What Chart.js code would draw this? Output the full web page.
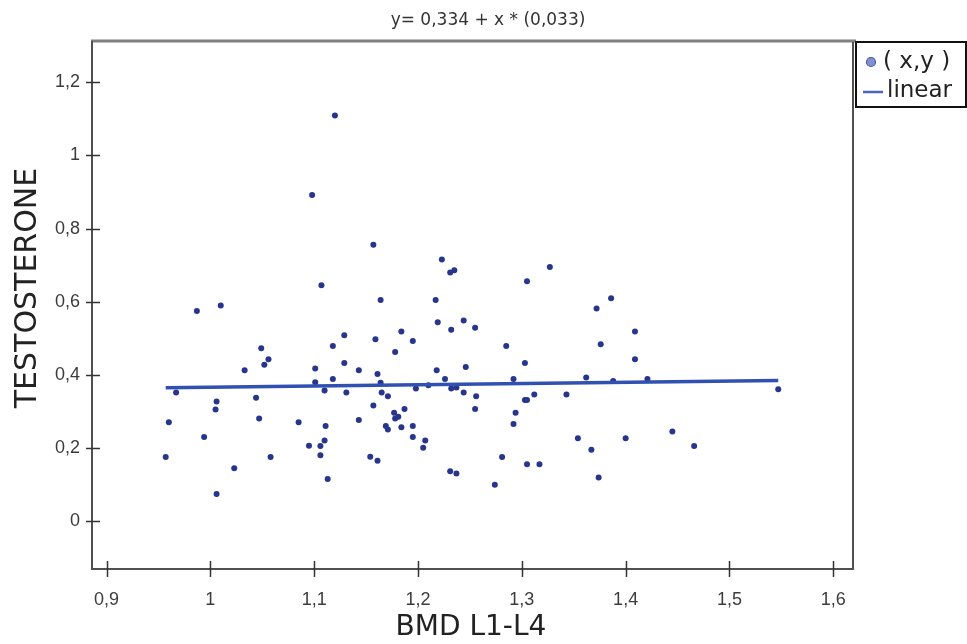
<!DOCTYPE html>
<html>
<head>
<meta charset="utf-8">
<script src="https://cdn.jsdelivr.net/npm/chart.js@4"></script>
<style>
  html, body { margin: 0; padding: 0; background: #fff; }
  #c { display: block; }
</style>
</head>
<body>
<canvas id="c" width="967" height="644"></canvas>
<script>
// BMD L1-L4 (x) and testosterone (y)
const bmd = [
  0.987, 1.010, 1.049, 1.056, 1.052, 1.033, 0.967, 1.006, 1.005, 1.044,
  0.960, 1.047, 0.994, 0.957, 1.058, 1.023, 1.006,
  1.120, 1.098, 1.157, 1.223, 1.231, 1.235, 1.107, 1.164, 1.217,
  1.219, 1.232, 1.244, 1.255, 1.129, 1.118, 1.159, 1.184, 1.195, 1.178,
  1.101, 1.129, 1.143, 1.161, 1.218, 1.246, 1.101, 1.118, 1.110, 1.131,
  1.164, 1.165, 1.171, 1.198, 1.210, 1.226, 1.232, 1.237, 1.244, 1.256,
  1.255, 1.157, 1.187, 1.177, 1.181, 1.178, 1.143, 1.085, 1.111, 1.169,
  1.171, 1.184, 1.195, 1.195, 1.207, 1.205, 1.095, 1.106, 1.110, 1.106,
  1.154, 1.161, 1.113, 1.231, 1.237,
  1.327, 1.305, 1.386, 1.372, 1.409, 1.285, 1.376, 1.303, 1.409, 1.292,
  1.362, 1.388, 1.421, 1.312, 1.303, 1.305, 1.343, 1.294, 1.292, 1.354,
  1.367, 1.400, 1.281, 1.305, 1.317, 1.374, 1.274,
  1.547, 1.445, 1.466
];
const testosterone = [
  0.575, 0.590, 0.473, 0.443, 0.428, 0.413, 0.352, 0.328, 0.306, 0.338,
  0.271, 0.281, 0.231, 0.176, 0.176, 0.145, 0.075,
  1.109, 0.892, 0.756, 0.716, 0.680, 0.686, 0.645, 0.605, 0.605,
  0.544, 0.524, 0.549, 0.529, 0.509, 0.479, 0.498, 0.519, 0.493, 0.463,
  0.418, 0.433, 0.413, 0.403, 0.413, 0.422, 0.380, 0.389, 0.358, 0.352,
  0.379, 0.352, 0.342, 0.363, 0.372, 0.389, 0.363, 0.366, 0.352, 0.342,
  0.307, 0.317, 0.307, 0.297, 0.286, 0.281, 0.277, 0.271, 0.261, 0.261,
  0.251, 0.257, 0.261, 0.231, 0.221, 0.201, 0.207, 0.206, 0.221, 0.181,
  0.177, 0.166, 0.116, 0.137, 0.131,
  0.695, 0.656, 0.610, 0.582, 0.519, 0.479, 0.484, 0.433, 0.443, 0.389,
  0.393, 0.384, 0.389, 0.347, 0.332, 0.332, 0.347, 0.297, 0.266, 0.227,
  0.196, 0.227, 0.176, 0.156, 0.156, 0.120, 0.100,
  0.361, 0.246, 0.206
];
const intercept = 0.334;
const slope = 0.033;
const xTicks = [0.9, 1.0, 1.1, 1.2, 1.3, 1.4, 1.5, 1.6];
const yTicks = [0, 0.2, 0.4, 0.6, 0.8, 1.0, 1.2];

const points = bmd.map((x, i) => ({x: x, y: testosterone[i]}));
const xMin = Math.min(...bmd), xMax = Math.max(...bmd);
const fit = [
  {x: xMin, y: intercept + slope * xMin},
  {x: xMax, y: intercept + slope * xMax}
];

const fmt = v => String(v).replace('.', ',');

// frame, tick marks, title, axis titles and legend box
const framePlugin = {
  id: 'frame',
  afterDraw(chart) {
    const {ctx, chartArea: a, scales: {x, y}} = chart;
    ctx.save();
    // plot frame
    ctx.strokeStyle = '#808080';
    ctx.lineWidth = 3;
    ctx.beginPath(); ctx.moveTo(a.left - 1, a.top - 1); ctx.lineTo(856, a.top - 1); ctx.stroke();
    ctx.strokeStyle = '#505050';
    ctx.lineWidth = 2;
    ctx.beginPath();
    ctx.moveTo(a.left, a.top - 1); ctx.lineTo(a.left, a.bottom); ctx.lineTo(a.right, a.bottom); ctx.lineTo(a.right, a.top);
    ctx.stroke();
    // tick marks
    ctx.strokeStyle = '#333';
    ctx.lineWidth = 1.5;
    xTicks.forEach(v => {
      const px = Math.round(x.getPixelForValue(v)) + 0.5;
      ctx.beginPath(); ctx.moveTo(px, a.bottom - 8); ctx.lineTo(px, a.bottom + 8); ctx.stroke();
    });
    yTicks.forEach(v => {
      const py = Math.round(y.getPixelForValue(v)) + 0.5;
      ctx.beginPath(); ctx.moveTo(a.left - 6, py); ctx.lineTo(a.left + 8, py); ctx.stroke();
    });
    // title
    ctx.fillStyle = '#333';
    ctx.textAlign = 'center';
    ctx.textBaseline = 'middle';
    ctx.font = '17px "DejaVu Sans"';
    ctx.fillText('y= 0,334 + x * (0,033)', 488, 21);
    // axis titles
    ctx.fillStyle = '#222';
    ctx.font = '28px "DejaVu Sans"';
    ctx.fillText('BMD L1-L4', 471, 628);
    ctx.save();
    ctx.translate(28, 288);
    ctx.rotate(-Math.PI / 2);
    ctx.font = '30px "DejaVu Sans"';
    ctx.fillText('TESTOSTERONE', 0, 0);
    ctx.restore();
    // legend
    ctx.fillStyle = '#fff';
    ctx.fillRect(855, 42, 111, 65);
    ctx.strokeStyle = '#111';
    ctx.lineWidth = 2;
    ctx.strokeRect(856, 42, 110, 65);
    ctx.beginPath();
    ctx.arc(871, 62, 4.5, 0, Math.PI * 2);
    ctx.fillStyle = '#8090d4';
    ctx.fill();
    ctx.strokeStyle = '#4a58a8';
    ctx.lineWidth = 1.2;
    ctx.stroke();
    ctx.strokeStyle = '#4a66c0';
    ctx.lineWidth = 2.5;
    ctx.beginPath(); ctx.moveTo(863, 92); ctx.lineTo(883, 92); ctx.stroke();
    ctx.fillStyle = '#222';
    ctx.textAlign = 'left';
    ctx.font = '23px "DejaVu Sans"';
    ctx.fillText('( x,y )', 883, 62);
    ctx.fillText('linear', 887, 91);
    ctx.restore();
  }
};

new Chart(document.getElementById('c'), {
  type: 'scatter',
  data: {
    datasets: [
      {
        label: '( x,y )',
        data: points,
        backgroundColor: '#28358c',
        borderColor: '#28358c',
        pointRadius: 3,
        pointBorderWidth: 0,
        order: 2
      },
      {
        label: 'linear',
        type: 'line',
        data: fit,
        borderColor: '#3050b2',
        borderWidth: 3.5,
        pointRadius: 0,
        fill: false,
        order: 1
      }
    ]
  },
  options: {
    responsive: false,
    devicePixelRatio: 1,
    animation: false,
    layout: {padding: {left: 0, top: 42, right: 114, bottom: 0}},
    plugins: {
      legend: {display: false},
      title: {display: false},
      tooltip: {enabled: false}
    },
    scales: {
      x: {
        type: 'linear',
        min: 0.886,
        max: 1.619,
        grid: {display: false, drawTicks: false},
        border: {display: false},
        afterBuildTicks: s => { s.ticks = xTicks.map(v => ({value: v})); },
        afterFit: s => { s.height = 75; },
        ticks: {
          padding: 20,
          color: '#3c3c3c',
          font: {family: 'Liberation Sans', size: 18},
          callback: v => fmt(v)
        }
      },
      y: {
        type: 'linear',
        min: -0.13,
        max: 1.31,
        grid: {display: false, drawTicks: false},
        border: {display: false},
        afterBuildTicks: s => { s.ticks = yTicks.map(v => ({value: v})); },
        afterFit: s => { s.width = 92; },
        ticks: {
          padding: 12,
          color: '#3c3c3c',
          font: {family: 'Liberation Sans', size: 18},
          callback: v => fmt(v)
        }
      }
    }
  },
  plugins: [framePlugin]
});
</script>
</body>
</html>
